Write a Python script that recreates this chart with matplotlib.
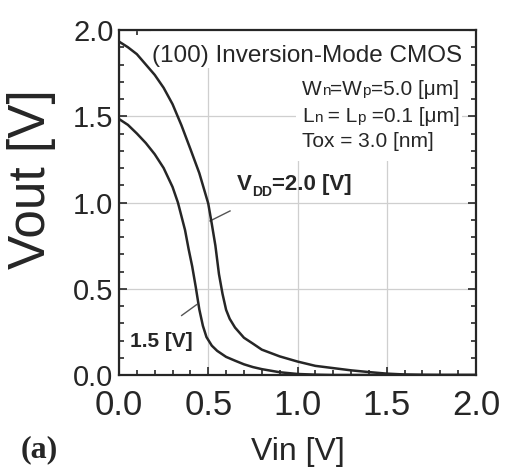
import matplotlib
matplotlib.use("Agg")
import matplotlib.pyplot as plt
from matplotlib.patches import Rectangle
from matplotlib.transforms import offset_copy
from matplotlib.ticker import MultipleLocator

# Vout vs Vin
vin_20 = [0.00, 0.05, 0.10, 0.15, 0.20, 0.25, 0.30, 0.35, 0.40, 0.45, 0.50, 0.52, 0.54,
          0.56, 0.58, 0.60, 0.62, 0.65, 0.70, 0.75, 0.80, 0.90, 1.00, 1.10, 1.20, 1.30,
          1.40, 1.50, 1.60, 1.70, 1.80, 2.00]
vout_20 = [1.933, 1.90, 1.86, 1.80, 1.74, 1.665, 1.57, 1.447, 1.31, 1.17, 0.994, 0.875, 0.75,
           0.585, 0.47, 0.378, 0.326, 0.275, 0.216, 0.182, 0.147, 0.108, 0.078, 0.053, 0.040, 0.027,
           0.017, 0.008, 0.003, 0.001, 0.0, 0.0]

vin_15 = [0.00, 0.05, 0.10, 0.15, 0.20, 0.25, 0.30, 0.33, 0.35, 0.37, 0.39, 0.41, 0.43,
          0.45, 0.47, 0.49, 0.52, 0.55, 0.60, 0.65, 0.70, 0.75, 0.80, 0.90, 1.00, 1.10,
          1.20, 2.00]
vout_15 = [1.484, 1.45, 1.40, 1.345, 1.28, 1.20, 1.09, 1.00, 0.92, 0.84, 0.73, 0.63, 0.51,
           0.38, 0.285, 0.22, 0.17, 0.14, 0.105, 0.083, 0.062, 0.046, 0.034, 0.016, 0.006, 0.002,
           0.0, 0.0]

xticks = [0.0, 0.5, 1.0, 1.5, 2.0]
yticks = [0.0, 0.5, 1.0, 1.5, 2.0]

plt.rcParams['font.family'] = ['Liberation Sans', 'DejaVu Sans']

W, H = 509, 468
fig = plt.figure(figsize=(W / 100, H / 100), dpi=100)
ax = fig.add_axes([119 / W, 1 - 375 / H, 357 / W, 345 / H])

ink = '#262626'


def rich(x, y, parts, transform, **kw):
    # draw pieces of text one after another on one baseline
    r = fig.canvas.get_renderer()
    dx = 0.0
    for s, size, dy in parts:
        tr = offset_copy(transform, fig=fig, x=dx, y=dy, units='dots')
        t = ax.text(x, y, s, fontsize=size, transform=tr, va='baseline', ha='left',
                    color=ink, zorder=6, **kw)
        dx += t.get_window_extent(renderer=r).width


ax.plot(vin_20, vout_20, color=ink, lw=1.8, zorder=5, solid_capstyle='butt')
ax.plot(vin_15, vout_15, color=ink, lw=1.8, zorder=5, solid_capstyle='butt')

ax.set_xlim(0, 2.0)
ax.set_ylim(0, 2.0)
ax.set_xticks(xticks)
ax.set_yticks(yticks)
ax.set_xticklabels([f'{v:.1f}' for v in xticks], fontsize=25)
ax.set_yticklabels([f'{v:.1f}' for v in yticks], fontsize=21)
ax.xaxis.set_minor_locator(MultipleLocator(0.1))
ax.yaxis.set_minor_locator(MultipleLocator(0.1))
ax.tick_params(which='both', direction='in', top=True, right=True, width=1.2, color=ink)
ax.tick_params(which='major', length=6)
ax.tick_params(which='minor', length=3.5)
ax.tick_params(axis='x', pad=10, labelcolor=ink)
ax.tick_params(axis='y', pad=4, labelcolor=ink)
for sp in ax.spines.values():
    sp.set_linewidth(1.6)
    sp.set_color(ink)
ax.grid(True, which='major', color='#cfcfcf', lw=0.9)
ax.set_axisbelow(True)

# white areas behind the texts
ax.add_patch(Rectangle((0.495, 0.62), 0.465, 0.38, transform=ax.transAxes,
                       facecolor='white', edgecolor='none', zorder=2))
ax.add_patch(Rectangle((0.09, 0.89), 0.89, 0.11, transform=ax.transAxes,
                       facecolor='white', edgecolor='none', zorder=2))

ax.text(0.092, 0.907, '(100) Inversion-Mode CMOS', transform=ax.transAxes,
        fontsize=17.5, color=ink, va='baseline', ha='left', zorder=6)
rich(0.513, 0.812, [('W', 15, 0), ('n', 11, 0), ('=W', 15, 0), ('p', 11, 0),
                    ('=5.0 [μm]', 15, 0)], ax.transAxes)
rich(0.513, 0.734, [('L', 15, 0), ('n', 11, 0), (' = L', 15, 0), ('p', 11, 0),
                    (' =0.1 [μm]', 15, 0)], ax.transAxes)
ax.text(0.513, 0.662, 'Tox = 3.0 [nm]', transform=ax.transAxes, fontsize=15,
        color=ink, va='baseline', ha='left', zorder=6)

rich(0.661, 1.071, [('V', 16, 0), ('DD', 10, -6), ('=2.0 [V]', 16, 0)], ax.transData,
     fontweight='bold')
ax.text(0.062, 0.16, '1.5 [V]', fontsize=15, fontweight='bold', color=ink,
        va='baseline', ha='left', zorder=6)

# leader lines from the labels to the curves
ax.plot([0.510, 0.622], [0.893, 0.951], color='#555555', lw=1.0, zorder=4)
ax.plot([0.351, 0.435], [0.345, 0.408], color='#555555', lw=1.0, zorder=4)

fig.text(32 / W, 1 - 179 / H, 'Vout [V]', rotation=90, fontsize=37, color=ink,
         ha='center', va='center')
fig.text(297.5 / W, 8 / H, 'Vin [V]', fontsize=23, color=ink, ha='center', va='baseline')
fig.text(21 / W, 11 / H, '(a)', fontsize=23, fontweight='bold', color=ink,
         family='Liberation Serif', ha='left', va='baseline')

fig.savefig('out.png', dpi=100)
